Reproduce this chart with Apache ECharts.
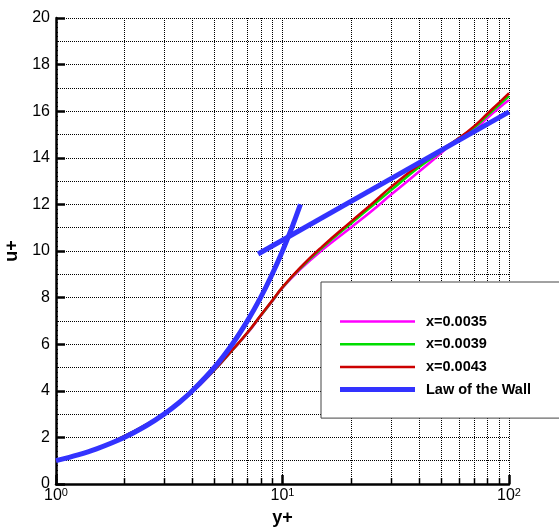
<!DOCTYPE html>
<html><head><meta charset="utf-8">
<script src="https://cdn.jsdelivr.net/npm/echarts@6/dist/echarts.min.js"></script>
<style>html,body{margin:0;padding:0;background:#fff}#c{width:559px;height:531px}</style>
</head><body><div id="c"></div>
<script>
// ---- data ----
const yPlus = [1,1.5,2,2.5,3,4,5,6,7,8,9,10,12,15,20,25,30,40,50,60,70,80,90,100];
const u0035 = [1.0,1.5,2.04,2.54,3.01,3.96,4.88,5.73,6.47,7.2,7.83,8.42,9.22,10.05,11.0,11.75,12.4,13.4,14.19,14.84,15.21,15.69,16.13,16.48];
const u0039 = [1.0,1.5,2.05,2.55,3.02,3.97,4.89,5.74,6.49,7.22,7.85,8.44,9.27,10.15,11.17,11.95,12.59,13.59,14.26,14.84,15.29,15.8,16.25,16.65];
const u0043 = [1.0,1.5,2.05,2.55,3.02,3.97,4.9,5.75,6.5,7.23,7.87,8.45,9.3,10.2,11.25,12.05,12.73,13.69,14.33,14.84,15.35,15.88,16.35,16.77];
const yVisc = [1,1.25,1.5,2,2.5,3,3.5,4,5,6,7,8,9,10,11,12];
const uVisc = [1,1.25,1.5,2,2.5,3,3.5,4,5,6,7,8,9,10,11,12];
const yLog = [7.8,100];
const uLog = [9.87,15.97];
const xMinor = [2,3,4,5,6,7,8,9,20,30,40,50,60,70,80,90];
const seriesNames = ['x=0.0035','x=0.0039','x=0.0043','Law of the Wall'];

const zip = (a,b) => a.map((v,i)=>[v,b[i]]);
const FONT = 'Liberation Sans, Arial, sans-serif';
const thinIcon = 'path://M0,0L0,0M0,14L0,14M0,5.75h75v2.5h-75z';
const thickIcon = 'path://M0,0L0,0M0,14L0,14M0,4.5h75v5h-75z';

const chart = echarts.init(document.getElementById('c'), null, {renderer:'canvas'});
const supDigits = {1:'0',10:'1',100:'2'};
const option = {
  animation:false,
  backgroundColor:'#fff',
  grid:{left:56, top:18, right:50, bottom:47, containLabel:false, outerBoundsMode:'none'},
  xAxis:[{
    type:'log', logBase:10, min:1, max:100,
    name:'y+', nameLocation:'middle', nameGap:24,
    nameTextStyle:{fontFamily:FONT, fontWeight:'bold', fontSize:18, color:'#000'},
    axisLine:{show:true, onZero:false, lineStyle:{color:'#000', width:2.5}},
    axisTick:{show:true, inside:true, length:9, lineStyle:{color:'#000', width:2.5}},
    axisLabel:{margin:3, fontFamily:FONT, color:'#000',
      formatter:v => '{b|10}{s|' + (supDigits[Math.round(v)] ?? Math.round(Math.log10(v))) + '}',
      rich:{b:{fontSize:16, lineHeight:18, fontFamily:FONT, color:'#000'},
            s:{fontSize:11, lineHeight:11, verticalAlign:'top', fontFamily:FONT, color:'#000'}}},
    splitLine:{show:true, lineStyle:{color:'#000', width:1, type:[1,1]}},
    minorTick:{show:false}
  }],
  yAxis:[{
    type:'value', min:0, max:20, interval:2,
    name:'u+', nameLocation:'middle', nameGap:33, nameRotate:90,
    nameTextStyle:{fontFamily:FONT, fontWeight:'bold', fontSize:18, color:'#000'},
    axisLine:{show:true, onZero:false, lineStyle:{color:'#000', width:2.5}},
    axisTick:{show:true, inside:true, length:9, lineStyle:{color:'#000', width:2.5}},
    minorTick:{show:true, splitNumber:10, length:2, lineStyle:{color:'#000', width:1}},
    axisLabel:{margin:6, fontFamily:FONT, fontSize:16, color:'#000'},
    splitLine:{show:false}
  },{
    type:'value', min:0, max:20, interval:1, position:'left',
    axisLine:{show:false}, axisTick:{show:false}, axisLabel:{show:false},
    splitLine:{show:true, lineStyle:{color:'#000', width:1, type:[1,1]}}
  }],
  legend:{
    orient:'vertical', left:321, top:282,
    data:[
      {name:seriesNames[0], icon:thinIcon},
      {name:seriesNames[1], icon:thinIcon},
      {name:seriesNames[2], icon:thinIcon},
      {name:seriesNames[3], icon:thickIcon}
    ],
    backgroundColor:'#fff', borderColor:'#444', borderWidth:1,
    padding:[32,40,21,19],
    itemWidth:75, itemHeight:14, itemGap:7.7,
    textStyle:{fontFamily:FONT, fontWeight:'bold', fontSize:14.5, color:'#000', padding:[0,0,0,6], lineHeight:14}
  },
  series:[
    {type:'custom', silent:true, z:1, xAxisIndex:0, yAxisIndex:0,
     data:xMinor.map(v=>[v]),
     renderItem:(params, api) => {
       const v = api.value(0);
       const top = api.coord([v, 20]);
       const bot = api.coord([v, 0]);
       const x = Math.round(top[0]) + 0.5;
       return {type:'group', children:[
         {type:'line', shape:{x1:x, y1:top[1], x2:x, y2:bot[1]},
          style:{stroke:'#000', lineWidth:1, lineDash:[1,1]}},
         {type:'line', shape:{x1:x, y1:bot[1], x2:x, y2:bot[1]-6},
          style:{stroke:'#000', lineWidth:1.5}}
       ]};
     }},
    {name:seriesNames[0], type:'line', data:zip(yPlus,u0035), showSymbol:false, symbol:'none', smooth:0.5,
     lineStyle:{color:'#ff00ff', width:2.5}, itemStyle:{color:'#ff00ff'}, z:3},
    {name:seriesNames[1], type:'line', data:zip(yPlus,u0039), showSymbol:false, symbol:'none', smooth:0.5,
     lineStyle:{color:'#00dd00', width:2.5}, itemStyle:{color:'#00dd00'}, z:3},
    {name:seriesNames[2], type:'line', data:zip(yPlus,u0043), showSymbol:false, symbol:'none', smooth:0.5,
     lineStyle:{color:'#cc0000', width:2.5}, itemStyle:{color:'#cc0000'}, z:3},
    {name:seriesNames[3], type:'line', data:zip(yVisc,uVisc), showSymbol:false, symbol:'none', smooth:0.3,
     lineStyle:{color:'#3333ff', width:5}, itemStyle:{color:'#3333ff'}, z:4},
    {name:seriesNames[3], type:'line', data:zip(yLog,uLog), showSymbol:false, symbol:'none',
     lineStyle:{color:'#3333ff', width:5}, itemStyle:{color:'#3333ff'}, z:4}
  ]
};
chart.setOption(option);
</script></body></html>
